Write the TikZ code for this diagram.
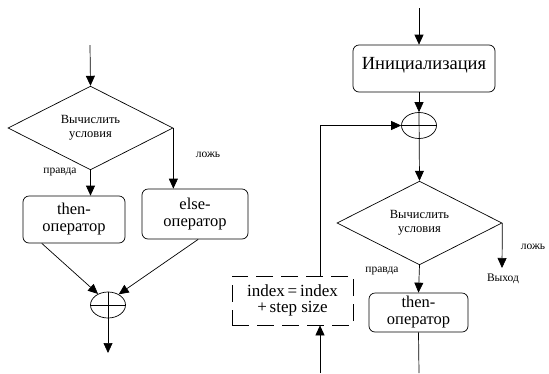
\documentclass[tikz,border=0pt]{standalone}
\usepackage{fontspec}
\setmainfont{Liberation Serif}
\newfontfamily\chartfont{Liberation Serif}
\usetikzlibrary{arrows.meta,shapes.geometric,calc}

\begin{document}
\begin{tikzpicture}[x=1pt,y=-1pt,
  line width=0.7pt,
  flow/.style={-{Triangle[length=10pt,width=9pt]}},
  decision/.style={draw,diamond,inner sep=0pt,align=center,
    font=\chartfont\fontsize{12.5}{13.5}\selectfont},
  opbox/.style={draw,rounded corners=6pt,inner sep=0pt,align=center,
    font=\chartfont\fontsize{16.5}{17}\selectfont},
  loopbox/.style={draw,dash pattern=on 17pt off 8pt,inner sep=0pt,align=center,
    font=\chartfont\fontsize{17}{16.5}\selectfont},
  joint/.style={draw,ellipse,inner sep=0pt,minimum width=35pt,minimum height=26pt},
  tag/.style={inner sep=0pt,font=\chartfont\fontsize{11.5}{12}\selectfont}]

\useasboundingbox (0,0) rectangle (549,373);

% ---------- if-then-else ----------
\coordinate (inL) at (90,45);
\node[decision,minimum width=165pt,minimum height=64pt] (condL) at (90.5,128)
  {Вычислить\\условия};
\node[opbox,minimum width=102pt,minimum height=47pt] (thenL) at (74,219.5)
  {then-\\оператор};
\node[opbox,minimum width=106pt,minimum height=50pt] (elseL) at (195,214)
  {else-\\оператор};
\node[joint] (joinL) at (108,305) {};
\coordinate (outL) at (108,353);

\node[tag] (yesL) at (60,172) {правда};
\node[tag] (noL) at (208,155) {ложь};

\draw[flow] (inL) -- (condL.north);
\draw[flow] (condL.south) -- (condL.south |- thenL.north);
\draw[flow] (condL.east) -- (condL.east |- elseL.north);
\draw[flow] ($(thenL.south west)!0.186!(thenL.south east)$) -- (joinL.132);
\draw[flow] ($(elseL.south west)!0.53!(elseL.south east)$) -- (joinL.45);
\draw (joinL.west) -- (joinL.east);
\draw[flow] (joinL.north) -- (outL);

% ---------- loop ----------
\coordinate (inR) at (419,8);
\node[opbox,minimum width=142pt,minimum height=47pt,
  font=\chartfont\fontsize{18.5}{19}\selectfont,text depth=10pt] (init) at (424,68.5)
  {Инициализация};
\node[joint] (joinR) at (419,125.5) {};
\node[decision,minimum width=165pt,minimum height=70pt] (condR) at (419.5,223)
  {Вычислить\\условия};
\coordinate (exitR) at (502,268);
\node[tag,anchor=north] (exitT) at (503,274) {Выход};
\node[tag] (noR) at (533,247) {ложь};
\node[tag] (yesR) at (382,271) {правда};
\node[opbox,minimum width=99pt,minimum height=39pt] (thenR) at (418.5,312.5)
  {then-\\оператор};
\coordinate (outR) at (419,373);
\node[loopbox,minimum width=121pt,minimum height=49pt] (step) at (292.5,300.5)
  {index\,=\,index\\+\,step size};
\coordinate (backIn) at (320,373);

\draw[flow] (inR) -- (inR |- init.north);
\draw[flow] (joinR |- init.south) -- (joinR.north);
\draw (joinR.west) -- (joinR.east);
\draw[flow] (joinR.north) -- (condR.north);
\draw[flow] (condR.east) -- (exitR);
\draw[flow] (condR.south) -- (thenR.north);
\draw (thenR.south) -- (outR);
\draw[flow] (backIn) -- (backIn |- step.south);
\draw[flow] (backIn |- step.north) |- (joinR.west);

\end{tikzpicture}
\end{document}
